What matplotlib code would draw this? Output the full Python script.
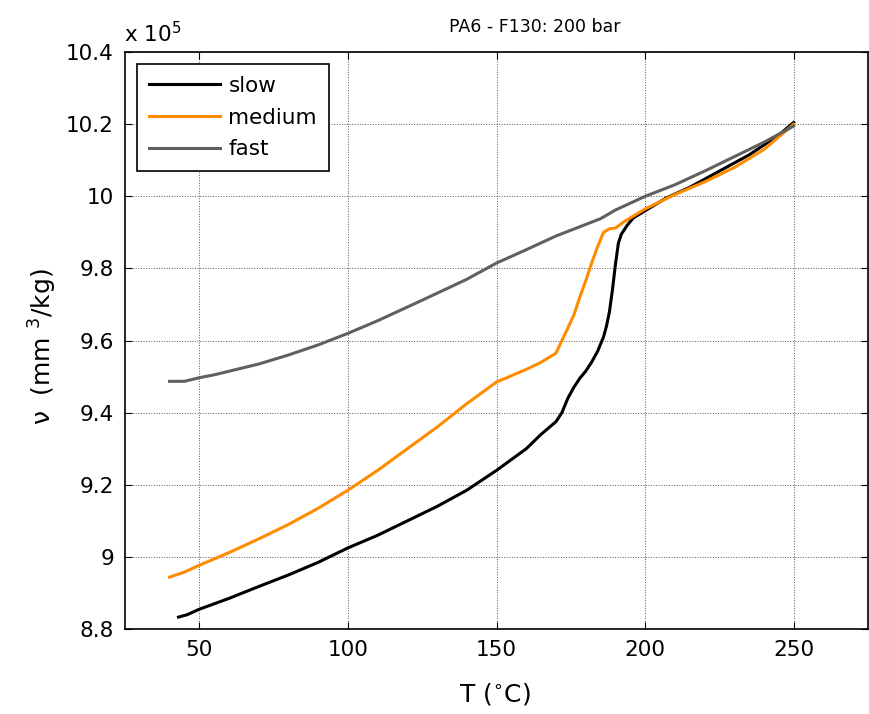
import matplotlib
matplotlib.use("Agg")
import matplotlib.pyplot as plt
from matplotlib.ticker import FormatStrFormatter

plt.rcParams['font.family'] = ['DejaVu Sans']
plt.rcParams['mathtext.fontset'] = 'dejavusans'

# data (v in units of 1e5 mm^3/kg)
slow_T = [43, 46, 50, 60, 70, 80, 90, 100, 110, 120, 130, 140, 150, 155, 160, 165,
          170, 172, 174, 176, 178, 180, 182, 184, 186, 187, 188, 189, 190, 191, 192,
          194, 196, 199, 203, 207, 215, 225, 235, 245, 250]
slow_v = [8.833, 8.840, 8.855, 8.885, 8.918, 8.950, 8.985, 9.025, 9.060, 9.100, 9.140,
          9.185, 9.240, 9.270, 9.300, 9.340, 9.375, 9.400, 9.440, 9.470, 9.495, 9.515,
          9.540, 9.570, 9.610, 9.640, 9.680, 9.740, 9.810, 9.870, 9.895, 9.920, 9.940,
          9.955, 9.975, 9.995, 10.025, 10.070, 10.115, 10.170, 10.205]

med_T = [40, 45, 50, 60, 70, 80, 90, 100, 110, 120, 130, 140, 150, 160, 165, 170, 172,
         174, 176, 178, 180, 182, 184, 186, 188, 190, 193, 196, 200, 205, 210, 220, 230,
         240, 250]
med_v = [8.944, 8.958, 8.977, 9.012, 9.050, 9.090, 9.135, 9.185, 9.240, 9.300, 9.360,
         9.425, 9.485, 9.520, 9.540, 9.565, 9.600, 9.635, 9.670, 9.720, 9.765, 9.815,
         9.860, 9.900, 9.910, 9.912, 9.930, 9.945, 9.965, 9.985, 10.005, 10.040, 10.080,
         10.130, 10.200]

fast_T = [40, 45, 50, 55, 60, 70, 80, 90, 100, 110, 125, 140, 150, 160, 170, 180, 185,
          190, 200, 210, 220, 230, 240, 250]
fast_v = [9.487, 9.487, 9.497, 9.505, 9.515, 9.535, 9.560, 9.588, 9.620, 9.655, 9.712,
          9.770, 9.815, 9.852, 9.890, 9.922, 9.938, 9.962, 10.000, 10.032, 10.070, 10.110,
          10.150, 10.195]

x_ticks = [50, 100, 150, 200, 250]
y_ticks = [8.8, 9.0, 9.2, 9.4, 9.6, 9.8, 10.0, 10.2, 10.4]

fig = plt.figure(figsize=(8.7, 7.14), dpi=100)
ax = fig.add_axes([0.1437, 0.119, 0.8540, 0.808])

ax.plot(slow_T, slow_v, color='black', lw=2.2, label='slow')
ax.plot(med_T, med_v, color='#ff8c00', lw=2.2, label='medium')
ax.plot(fast_T, fast_v, color='#606060', lw=2.2, label='fast')

ax.set_xlim(25, 275)
ax.set_ylim(8.8, 10.4)
ax.set_xticks(x_ticks)
ax.set_yticks(y_ticks)
ax.yaxis.set_major_formatter(FormatStrFormatter('%g'))
ax.tick_params(direction='in', top=True, right=True, length=5, labelsize=15.5, pad=8)
ax.grid(True, linestyle=':', color='#555555', linewidth=0.7)
for s in ax.spines.values():
    s.set_linewidth(1.2)

leg = ax.legend(loc='upper left', fontsize=15.5, handlelength=3.3, handletextpad=0.4,
                borderaxespad=0.55, fancybox=False, framealpha=1, edgecolor='black',
                labelspacing=0.55, borderpad=0.55)
leg.get_frame().set_linewidth(1.2)

fig.text(535 / 870, 1 - 27 / 714, 'PA6 - F130: 200 bar', fontsize=12.5, ha='center', va='center')
fig.text(124 / 870, 1 - 42 / 714, 'x 10$^{5}$', fontsize=15.5, ha='left', va='baseline')
fig.text(495 / 870, 1 - 694 / 714, 'T ($^{\\circ}$C)', fontsize=18, ha='center', va='center')
fig.text(43 / 870, 1 - 347 / 714, 'ν  (mm $^{3}$/kg)', fontsize=18, ha='center', va='center',
         rotation=90)

fig.savefig('out.png', dpi=100)
